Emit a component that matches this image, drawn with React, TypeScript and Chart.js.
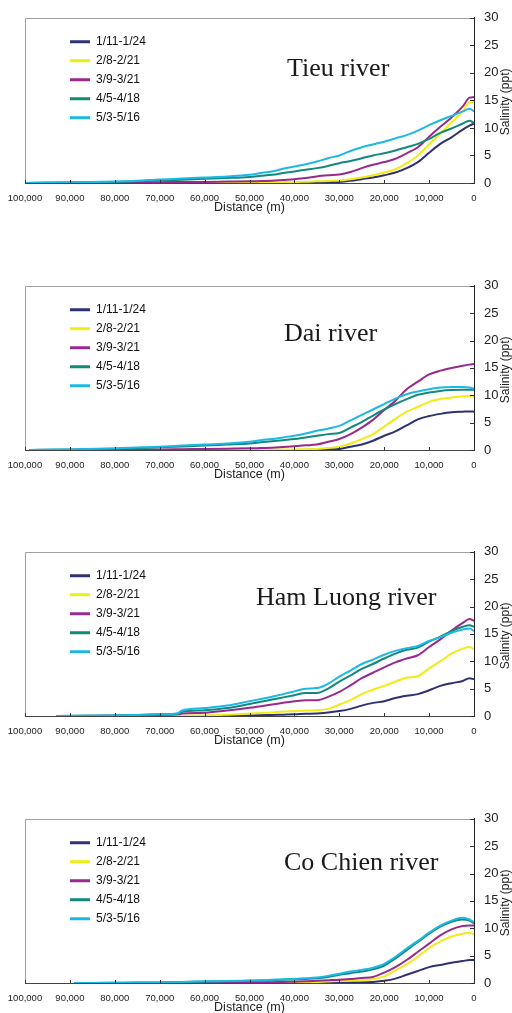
import React, { useEffect, useRef } from "react";
import { Chart, registerables } from "chart.js";

Chart.register(...registerables);

// ---------------- data ----------------
const SERIES_LABELS = ["1/11-1/24", "2/8-2/21", "3/9-3/21", "4/5-4/18", "5/3-5/16"];
const SERIES_COLORS = ["#2E3172", "#F0EC14", "#982A8E", "#12897A", "#1DB9E6"];
const RIVER_NAMES = ["Tieu river", "Dai river", "Ham Luong river", "Co Chien river"];
const X_TICK_VALUES = [0, 10000, 20000, 30000, 40000, 50000, 60000, 70000, 80000, 90000, 100000];
const Y_TICK_VALUES = [0, 5, 10, 15, 20, 25, 30];
const X_TITLE = "Distance (m)";
const Y_TITLE = "Salinity (ppt)";

// Tieu river
const tieuDist = [100000, 90000, 80000, 75000, 70000, 65000, 60000, 55000, 50000, 47500, 45000, 42500, 40000, 37500, 35000, 32500, 30000, 27500, 25000, 22500, 20000, 17500, 15000, 12500, 10000, 7500, 5000, 2500, 1000, 0];
const tieuJan = [0, 0, 0, 0, 0, 0, 0, 0, 0, 0, 0, 0.02, 0.05, 0.07, 0.1, 0.15, 0.2, 0.4, 0.7, 1.0, 1.4, 1.9, 2.7, 3.8, 5.5, 7.1, 8.3, 9.7, 10.4, 10.8];
const tieuFeb = [0, 0, 0, 0, 0.05, 0.08, 0.1, 0.1, 0.1, 0.1, 0.12, 0.15, 0.18, 0.22, 0.3, 0.38, 0.45, 0.7, 1.0, 1.4, 1.9, 2.5, 3.6, 5.0, 7.0, 9.0, 11.0, 13.0, 14.6, 14.6];
const tieuMar = [0, 0.05, 0.1, 0.12, 0.15, 0.18, 0.2, 0.25, 0.3, 0.35, 0.4, 0.55, 0.7, 0.9, 1.2, 1.4, 1.55, 2.0, 2.7, 3.3, 3.8, 4.4, 5.4, 6.5, 8.4, 10.2, 11.9, 13.9, 15.5, 15.6];
const tieuApr = [0, 0.1, 0.2, 0.3, 0.45, 0.6, 0.75, 0.9, 1.1, 1.3, 1.5, 1.8, 2.1, 2.4, 2.7, 3.1, 3.6, 4.0, 4.5, 5.0, 5.4, 5.9, 6.5, 7.1, 8.0, 9.1, 9.9, 10.8, 11.3, 10.9];
const tieuMay = [0, 0.1, 0.25, 0.4, 0.65, 0.8, 1.0, 1.2, 1.5, 1.8, 2.1, 2.6, 3.0, 3.4, 3.9, 4.5, 5.0, 5.8, 6.5, 7.0, 7.5, 8.1, 8.7, 9.5, 10.5, 11.4, 12.2, 13.0, 13.5, 13.0];

// Dai river
const daiDist = [99000, 90000, 80000, 75000, 70000, 65000, 60000, 55000, 50000, 47500, 45000, 42500, 40000, 37500, 35000, 32500, 30000, 27500, 25000, 22500, 20000, 17500, 15000, 12500, 10000, 7500, 5000, 2500, 1000, 0];
const daiJan = [0, 0, 0, 0, 0, 0, 0, 0, 0, 0, 0, 0, 0, 0.02, 0.05, 0.1, 0.2, 0.6, 1.0, 1.7, 2.6, 3.4, 4.5, 5.6, 6.2, 6.6, 6.9, 7.0, 7.05, 7.0];
const daiFeb = [0, 0, 0, 0, 0, 0.05, 0.1, 0.1, 0.1, 0.1, 0.1, 0.1, 0.12, 0.15, 0.2, 0.35, 0.6, 1.2, 2.0, 2.9, 4.3, 5.7, 7.0, 7.9, 8.8, 9.3, 9.6, 9.8, 9.9, 9.8];
const daiMar = [0, 0, 0.05, 0.08, 0.1, 0.15, 0.2, 0.25, 0.3, 0.35, 0.4, 0.55, 0.7, 0.85, 1.0, 1.5, 2.0, 2.9, 4.1, 5.5, 7.3, 9.0, 11.1, 12.5, 13.8, 14.5, 15.0, 15.4, 15.6, 15.7];
const daiApr = [0, 0.1, 0.2, 0.35, 0.5, 0.65, 0.8, 1.0, 1.2, 1.4, 1.6, 1.8, 2.0, 2.3, 2.6, 2.9, 3.1, 4.1, 5.1, 6.3, 7.4, 8.4, 9.3, 10.1, 10.5, 10.8, 10.95, 11.0, 11.0, 11.0];
const daiMay = [0, 0.1, 0.3, 0.45, 0.6, 0.8, 1.0, 1.2, 1.5, 1.8, 2.0, 2.3, 2.6, 3.0, 3.5, 3.9, 4.4, 5.4, 6.4, 7.4, 8.4, 9.4, 10.2, 10.7, 11.1, 11.4, 11.5, 11.5, 11.4, 11.2];

// Ham Luong river
const hamDist = [93000, 80000, 75000, 70000, 66000, 65000, 60000, 55000, 50000, 47500, 45000, 42500, 40000, 37500, 35000, 32500, 30000, 27500, 25000, 22500, 20000, 17500, 15000, 12500, 10000, 7500, 5000, 2500, 1000, 0];
const hamJan = [0, 0, 0, 0, 0, 0, 0.02, 0.05, 0.1, 0.15, 0.2, 0.25, 0.3, 0.4, 0.45, 0.65, 0.9, 1.3, 1.9, 2.4, 2.7, 3.3, 3.7, 4.0, 4.7, 5.5, 6.0, 6.4, 6.9, 6.7];
const hamFeb = [0, 0, 0, 0, 0, 0.05, 0.1, 0.25, 0.45, 0.55, 0.65, 0.8, 0.9, 1.0, 1.05, 1.3, 2.1, 2.9, 4.0, 4.8, 5.5, 6.3, 7.0, 7.3, 8.7, 10.0, 11.4, 12.3, 12.6, 12.2];
const hamMar = [0, 0.05, 0.1, 0.2, 0.3, 0.45, 0.6, 1.0, 1.5, 1.8, 2.1, 2.4, 2.7, 2.9, 2.9, 3.5, 4.4, 5.6, 6.9, 7.9, 8.9, 9.8, 10.5, 11.1, 12.6, 14.0, 15.6, 17.0, 17.7, 17.4];
const hamApr = [0, 0.1, 0.2, 0.3, 0.4, 0.75, 1.05, 1.45, 2.2, 2.6, 3.0, 3.4, 3.8, 4.2, 4.2, 5.0, 6.3, 7.4, 8.6, 9.5, 10.5, 11.4, 12.1, 12.5, 13.6, 14.5, 15.5, 16.3, 16.6, 16.3];
const hamMay = [0, 0.1, 0.2, 0.3, 0.5, 1.0, 1.45, 1.9, 2.7, 3.1, 3.5, 4.0, 4.5, 5.0, 5.1, 5.9, 7.2, 8.3, 9.5, 10.3, 11.2, 11.9, 12.4, 12.8, 13.7, 14.4, 15.2, 15.8, 16.0, 15.5];

// Co Chien river
const coDist = [89000, 80000, 75000, 70000, 67500, 65000, 60000, 55000, 50000, 47500, 45000, 42500, 40000, 37500, 35000, 32500, 30000, 27500, 25000, 22500, 20000, 17500, 15000, 12500, 10000, 7500, 5000, 2500, 1000, 0];
const coJan = [0, 0, 0, 0, 0, 0, 0, 0, 0, 0, 0, 0, 0, 0, 0, 0.02, 0.05, 0.08, 0.1, 0.2, 0.4, 0.8, 1.5, 2.2, 2.9, 3.3, 3.7, 4.0, 4.2, 4.2];
const coFeb = [0, 0, 0, 0, 0, 0, 0.02, 0.03, 0.05, 0.06, 0.08, 0.09, 0.1, 0.15, 0.2, 0.28, 0.35, 0.45, 0.55, 0.7, 1.2, 2.3, 3.4, 4.8, 6.4, 7.6, 8.5, 9.0, 9.2, 8.9];
const coMar = [0, 0, 0, 0.02, 0.05, 0.08, 0.1, 0.12, 0.13, 0.14, 0.15, 0.2, 0.25, 0.3, 0.4, 0.5, 0.6, 0.75, 0.9, 1.1, 1.9, 2.9, 4.2, 5.7, 7.2, 8.7, 9.8, 10.4, 10.5, 10.5];
const coApr = [0, 0.05, 0.08, 0.1, 0.15, 0.2, 0.25, 0.3, 0.4, 0.45, 0.5, 0.6, 0.65, 0.75, 0.85, 1.1, 1.5, 1.8, 2.1, 2.5, 3.2, 4.5, 6.0, 7.5, 9.0, 10.3, 11.2, 11.6, 11.4, 10.9];
const coMay = [0, 0.05, 0.08, 0.1, 0.15, 0.2, 0.3, 0.35, 0.45, 0.5, 0.6, 0.7, 0.75, 0.85, 1.0, 1.3, 1.7, 2.1, 2.4, 2.8, 3.5, 4.8, 6.3, 7.7, 9.2, 10.5, 11.4, 11.9, 11.6, 11.1];

const PANEL_DIST = [tieuDist, daiDist, hamDist, coDist];
const PANEL_SERIES = [
  [tieuJan, tieuFeb, tieuMar, tieuApr, tieuMay],
  [daiJan, daiFeb, daiMar, daiApr, daiMay],
  [hamJan, hamFeb, hamMar, hamApr, hamMay],
  [coJan, coFeb, coMar, coApr, coMay],
];

// ---------------- layout (styles only) ----------------
const PANEL_LAYOUT = [
  { top: 10, plotH: 173, titleX: 287, titleBase: 58 },
  { top: 278, plotH: 172, titleX: 284, titleBase: 55 },
  { top: 544, plotH: 172, titleX: 256, titleBase: 53 },
  { top: 811, plotH: 172, titleX: 284, titleBase: 51 },
];
const PAD_TOP = 10;
const PLOT_LEFT = 25;
const Y_AXIS_W = 38;
const X_AXIS_H = 32;
const SANS = '"Liberation Sans", Arial, sans-serif';

const decorPlugin = {
  id: "panelDecor",
  afterLayout(chart: any) {
    const lg = chart.legend;
    if (lg) {
      lg.left = chart.chartArea.left + 38;
      lg.top = chart.chartArea.top + 11;
    }
  },
  beforeDatasetsDraw(chart: any) {
    const { ctx, chartArea } = chart;
    ctx.save();
    ctx.strokeStyle = "#a0a0a0";
    ctx.lineWidth = 1;
    ctx.beginPath();
    const l = Math.round(chartArea.left) + 0.5;
    const t = Math.round(chartArea.top) + 0.5;
    ctx.moveTo(l, chartArea.bottom);
    ctx.lineTo(l, t);
    ctx.lineTo(chartArea.right, t);
    ctx.stroke();
    ctx.restore();
  },
  afterDraw(chart: any, _args: any, opts: any) {
    const { ctx, chartArea, scales } = chart;
    const xs = scales.x;
    const ys = scales.y;
    ctx.save();
    ctx.strokeStyle = "#333";
    ctx.lineWidth = 1;
    ctx.beginPath();
    xs.ticks.forEach((tk: any) => {
      const px = Math.round(xs.getPixelForValue(tk.value)) + 0.5;
      ctx.moveTo(px, chartArea.bottom);
      ctx.lineTo(px, chartArea.bottom - 3);
    });
    ys.ticks.forEach((tk: any) => {
      const py = Math.round(ys.getPixelForValue(tk.value)) + 0.5;
      ctx.moveTo(chartArea.right, py);
      ctx.lineTo(chartArea.right - 4, py);
    });
    ctx.stroke();

    // y-axis title, reading bottom to top
    ctx.fillStyle = "#222";
    ctx.font = `12px ${SANS}`;
    ctx.textAlign = "center";
    ctx.textBaseline = "middle";
    ctx.translate(chartArea.right + 31.5, chartArea.top + 84);
    ctx.rotate(-Math.PI / 2);
    ctx.fillText(opts.yTitle, 0, 0);
    ctx.setTransform(1, 0, 0, 1, 0, 0);

    // river name
    ctx.fillStyle = "#1a1a1a";
    ctx.font = `26px "Liberation Serif", "Times New Roman", serif`;
    ctx.textAlign = "left";
    ctx.textBaseline = "alphabetic";
    ctx.fillText(opts.title, opts.titleX, chartArea.top + opts.titleBase);
    ctx.restore();
  },
};

function makeConfig(p: number): any {
  const dist = PANEL_DIST[p];
  const series = PANEL_SERIES[p];
  const lay = PANEL_LAYOUT[p];
  const datasets = series.map((vals, i) => ({
    label: SERIES_LABELS[i],
    data: dist.map((x, k) => ({ x, y: vals[k] })),
    borderColor: SERIES_COLORS[i],
    backgroundColor: SERIES_COLORS[i],
    borderWidth: 2,
    pointRadius: 0,
    fill: false,
    cubicInterpolationMode: "monotone",
    order: series.length - 1 - i,
  }));
  return {
    type: "line",
    data: { datasets },
    plugins: [decorPlugin],
    options: {
      animation: false,
      responsive: false,
      maintainAspectRatio: false,
      layout: { padding: { top: PAD_TOP, left: PLOT_LEFT, right: 0, bottom: 0 } },
      plugins: {
        tooltip: { enabled: false },
        title: { display: false },
        legend: {
          display: true,
          position: "chartArea",
          align: "start",
          labels: {
            boxWidth: 20,
            boxHeight: 3,
            padding: 7,
            color: "#111",
            font: { size: 12, family: SANS },
            sort: (a: any, b: any) => a.datasetIndex - b.datasetIndex,
            generateLabels: (chart: any) =>
              Chart.defaults.plugins.legend.labels
                .generateLabels(chart)
                .map((it: any) => ({ ...it, lineWidth: 0, fillStyle: it.strokeStyle })),
          },
        },
        panelDecor: {
          title: RIVER_NAMES[p],
          titleX: lay.titleX,
          titleBase: lay.titleBase,
          yTitle: Y_TITLE,
        },
      },
      scales: {
        x: {
          type: "linear",
          position: "bottom",
          reverse: true,
          min: 0,
          max: 100000,
          afterBuildTicks: (s: any) => {
            s.ticks = X_TICK_VALUES.map((v) => ({ value: v }));
          },
          afterFit: (s: any) => {
            s.height = X_AXIS_H;
          },
          grid: { display: true, drawOnChartArea: false, drawTicks: false },
          border: { display: true, color: "#444", width: 1 },
          ticks: {
            autoSkip: false,
            maxRotation: 0,
            minRotation: 0,
            padding: 9.5,
            color: "#222",
            font: { size: 9.5, family: SANS },
            callback: (v: any) => Number(v).toLocaleString("en-US"),
          },
          title: {
            display: true,
            text: X_TITLE,
            color: "#222",
            padding: 0,
            font: { size: 12.5, family: SANS },
          },
        },
        y: {
          type: "linear",
          position: "right",
          min: 0,
          max: 30,
          afterBuildTicks: (s: any) => {
            s.ticks = Y_TICK_VALUES.map((v) => ({ value: v }));
          },
          afterFit: (s: any) => {
            s.width = Y_AXIS_W;
          },
          grid: { display: true, drawOnChartArea: false, drawTicks: false },
          border: { display: true, color: "#222", width: 1 },
          ticks: {
            padding: 10,
            color: "#222",
            font: { size: 13, family: SANS },
          },
          title: { display: false },
        },
      },
    },
  };
}

function Panel({ index }: { index: number }) {
  const ref = useRef<HTMLCanvasElement | null>(null);
  const lay = PANEL_LAYOUT[index];
  const h = PAD_TOP + lay.plotH + X_AXIS_H;
  useEffect(() => {
    if (!ref.current) return;
    const chart = new Chart(ref.current, makeConfig(index));
    return () => chart.destroy();
  }, [index]);
  return (
    <canvas
      ref={ref}
      width={512}
      height={h}
      style={{ position: "absolute", left: 0, top: lay.top - PAD_TOP, width: 512, height: h, display: "block" }}
    />
  );
}

export default function App() {
  return (
    <div style={{ position: "absolute", left: 0, top: 0, width: 512, height: 1013, overflow: "hidden", background: "#fff" }}>
      {RIVER_NAMES.map((_, i) => (
        <Panel key={i} index={i} />
      ))}
    </div>
  );
}
